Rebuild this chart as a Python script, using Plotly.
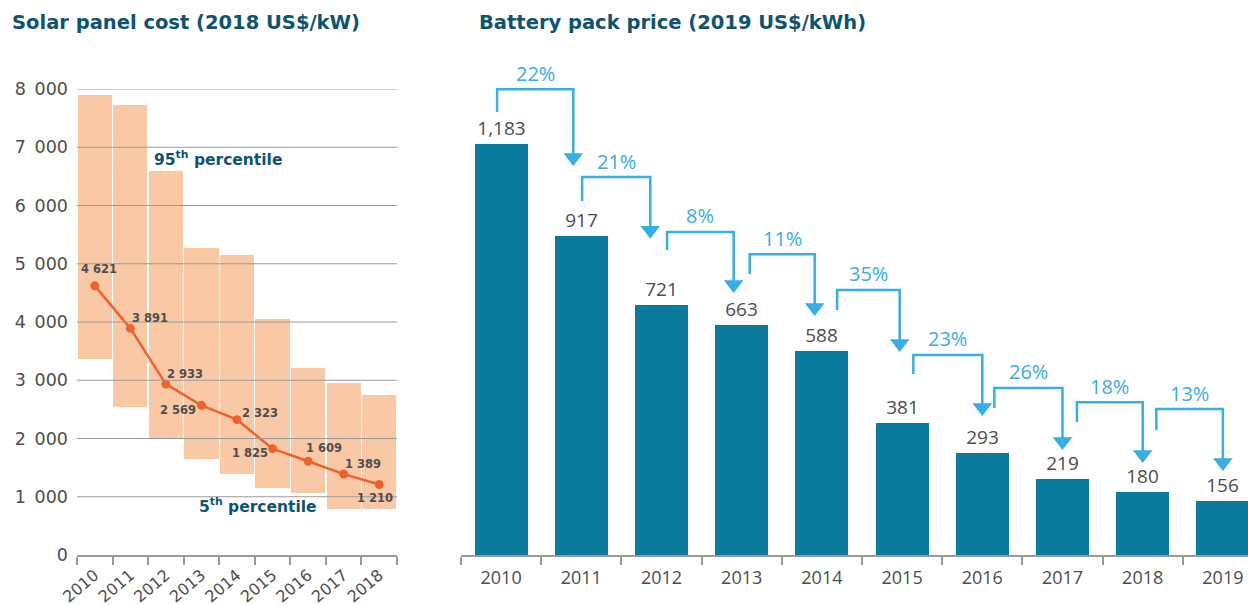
import plotly.graph_objects as go

W, H = 1248, 605

# ---------------- data ----------------
solar_years = ["2010", "2011", "2012", "2013", "2014", "2015", "2016", "2017", "2018"]
solar_avg = [4621, 3891, 2933, 2569, 2323, 1825, 1609, 1389, 1210]
solar_p95 = [7900, 7725, 6590, 5270, 5150, 4050, 3210, 2950, 2750]
solar_p5 = [3365, 2540, 2010, 1650, 1390, 1150, 1070, 790, 790]
solar_yticks = [0, 1000, 2000, 3000, 4000, 5000, 6000, 7000, 8000]

battery_years = ["2010", "2011", "2012", "2013", "2014", "2015", "2016", "2017", "2018", "2019"]
battery_price = [1183, 917, 721, 663, 588, 381, 293, 219, 180, 156]
battery_drop = ["22%", "21%", "8%", "11%", "35%", "23%", "26%", "18%", "13%"]

# bracket geometry (US$/kWh levels)
bracket_start = [1275, 1019, 878, 809, 705, 521, 423, 383, 360]
bracket_top = [1341, 1088, 930, 866, 763, 576, 481, 440, 420]
arrow_tip = [1120, 910, 754, 688, 584, 400, 302, 265, 242]
bracket_left_off = [-0.05, 0.01, 0.07, 0.10, 0.19, 0.14, 0.15, 0.18, 0.17]
bracket_right_off = [-0.10, -0.14, -0.10, -0.09, -0.03, 0.0, 0.0, 0.0, 0.0]

# label offsets (px) for the solar average labels
lab_dx = [4, 20, 19, -23, 23, -23, 16, 19, -4]
lab_dy = [17, 10, 10, -5, 7, -4, 13, 10, -13]

# ---------------- styling ----------------
FONT = "Open Sans"
WIDE = "DejaVu Sans"
TEAL_DARK = "#0E5470"
BAR_TEAL = "#0A7B9D"
PEACH = "#F9C9A6"
ORANGE = "#F0622D"
ARROW = "#36AEE6"
GRID = "#9a9a9a"
TXT = "#4d4d4d"
SEP = "\u2002"

def px_x(p):
    return p / W

def px_y(p):
    return 1 - p / H

# left axes geometry
L_X0, L_X1 = 77, 397
BASE_Y = 555
L_TOP = 89
# right axes geometry
R_X0 = 461
R_CAT = 80.2
R_TOP = 40
R_SCALE = 0.3474  # px per US$/kWh
r_ymax = (BASE_Y - R_TOP) / R_SCALE
r_xmax = (W - R_X0) / R_CAT - 0.5

fig = go.Figure()

n_s = len(solar_years)
sx = list(range(n_s))

# percentile boxes
fig.add_trace(go.Bar(
    x=sx, y=[t - b for t, b in zip(solar_p95, solar_p5)], base=solar_p5,
    width=0.96, marker=dict(color=PEACH, line=dict(width=0)),
    xaxis="x", yaxis="y", hoverinfo="skip", showlegend=False,
))
# average line
fig.add_trace(go.Scatter(
    x=sx, y=solar_avg, mode="lines+markers",
    line=dict(color=ORANGE, width=2.5),
    marker=dict(color=ORANGE, size=9),
    xaxis="x", yaxis="y", showlegend=False, cliponaxis=False,
))

# battery bars
n_b = len(battery_years)
bx = list(range(n_b))
fig.add_trace(go.Bar(
    x=bx, y=battery_price, width=0.66,
    marker=dict(color=BAR_TEAL, line=dict(width=0)),
    text=[f"{v:,}" for v in battery_price], textposition="outside",
    textfont=dict(family=FONT, size=19, color=TXT),
    cliponaxis=False, xaxis="x2", yaxis="y2", showlegend=False,
))

# brackets
tri_size = 17
r = tri_size / 2
bxs, bys, tx, ty = [], [], [], []
for i in range(len(battery_drop)):
    xl = i + bracket_left_off[i]
    xr = i + 1 + bracket_right_off[i]
    tip_center = arrow_tip[i] + r / R_SCALE
    bxs += [xl, xl, xr, xr, None]
    bys += [bracket_start[i], bracket_top[i], bracket_top[i], tip_center, None]
    tx.append(xr)
    ty.append(tip_center)
fig.add_trace(go.Scatter(
    x=bxs, y=bys, mode="lines", line=dict(color=ARROW, width=2.5),
    xaxis="x2", yaxis="y2", showlegend=False, cliponaxis=False, hoverinfo="skip",
))
fig.add_trace(go.Scatter(
    x=tx, y=ty, mode="markers",
    marker=dict(symbol="triangle-down", size=tri_size, color=ARROW, line=dict(width=0)),
    xaxis="x2", yaxis="y2", showlegend=False, cliponaxis=False, hoverinfo="skip",
))

annotations = []
# percentage labels
for i, t in enumerate(battery_drop):
    xl = i + bracket_left_off[i]
    xr = i + 1 + bracket_right_off[i]
    annotations.append(dict(
        x=(xl + xr) / 2, y=bracket_top[i], xref="x2", yref="y2",
        text=t, showarrow=False, yanchor="middle", yshift=16,
        font=dict(family=FONT, size=20, color=ARROW),
    ))

# solar labels
for i, v in enumerate(solar_avg):
    annotations.append(dict(
        x=i, y=v, xref="x", yref="y", showarrow=False,
        text=f"{v:,}".replace(",", " "), xshift=lab_dx[i], yshift=lab_dy[i],
        font=dict(family=WIDE, size=11.5, color=TXT, weight="bold"),
    ))

annotations.append(dict(
    x=1.61, y=6815, xref="x", yref="y", xanchor="left", yanchor="middle",
    text="95<sup>th</sup> percentile", showarrow=False,
    font=dict(family=WIDE, size=15.5, color=TEAL_DARK, weight="bold"),
))
annotations.append(dict(
    x=2.88, y=858, xref="x", yref="y", xanchor="left", yanchor="middle",
    text="5<sup>th</sup> percentile", showarrow=False,
    font=dict(family=WIDE, size=15.5, color=TEAL_DARK, weight="bold"),
))

# titles
annotations.append(dict(
    x=px_x(10), y=px_y(22), xref="paper", yref="paper", xanchor="left", yanchor="middle",
    text="Solar panel cost (2018 US$/kW)", showarrow=False,
    font=dict(family=WIDE, size=19.5, color=TEAL_DARK, weight="bold"),
))
annotations.append(dict(
    x=px_x(477), y=px_y(22), xref="paper", yref="paper", xanchor="left", yanchor="middle",
    text="Battery pack price (2019 US$/kWh)", showarrow=False,
    font=dict(family=WIDE, size=19.5, color=TEAL_DARK, weight="bold"),
))

# gridlines above the boxes
shapes = []
for v in solar_yticks[1:]:
    shapes.append(dict(
        type="line", xref="x", yref="y", x0=-0.5, x1=n_s - 0.5, y0=v, y1=v,
        line=dict(color=GRID, width=1), layer="above",
    ))

fig.update_layout(
    width=W, height=H,
    margin=dict(l=0, r=0, t=0, b=0),
    paper_bgcolor="white", plot_bgcolor="white",
    showlegend=False, bargap=0,
    annotations=annotations, shapes=shapes,
    xaxis=dict(
        domain=[px_x(L_X0), px_x(L_X1)], range=[-0.5, n_s - 0.5],
        tickmode="array", tickvals=sx, ticktext=solar_years, tickangle=-40,
        ticks="", showgrid=False, zeroline=False,
        showline=True, linecolor=GRID, linewidth=1.5,
        ticklabelstandoff=3,
        tickfont=dict(family=WIDE, size=16, color=TXT),
        minor=dict(tickmode="array", tickvals=[i - 0.5 for i in range(n_s + 1)],
                   ticks="outside", ticklen=8, tickcolor=GRID, tickwidth=1.5, showgrid=False),
        automargin=False, anchor="y", fixedrange=True,
    ),
    yaxis=dict(
        domain=[px_y(BASE_Y), px_y(L_TOP)], range=[0, 8000],
        tickmode="array", tickvals=solar_yticks,
        ticktext=[f"{v:,}".replace(",", SEP) for v in solar_yticks],
        ticks="", showgrid=False, zeroline=False, showline=False,
        ticklabelstandoff=8,
        tickfont=dict(family=WIDE, size=17.5, color=TXT),
        automargin=False, anchor="x", fixedrange=True,
    ),
    xaxis2=dict(
        domain=[px_x(R_X0), 1], range=[-0.5, r_xmax],
        tickmode="array", tickvals=bx, ticktext=battery_years,
        ticks="", showgrid=False, zeroline=False,
        showline=True, linecolor=GRID, linewidth=1.5,
        ticklabelstandoff=6,
        tickfont=dict(family=FONT, size=18, color=TXT),
        minor=dict(tickmode="array", tickvals=[i - 0.5 for i in range(n_b + 1)],
                   ticks="outside", ticklen=8, tickcolor=GRID, tickwidth=1.5, showgrid=False),
        automargin=False, anchor="y2", fixedrange=True,
    ),
    yaxis2=dict(
        domain=[px_y(BASE_Y), px_y(R_TOP)], range=[0, r_ymax],
        visible=False, showgrid=False, zeroline=False,
        automargin=False, anchor="x2", fixedrange=True,
    ),
)

fig.write_html(
    "out.html",
    config={"displayModeBar": False},
    post_script="document.body.style.margin='0';document.body.style.overflow='hidden';",
)
